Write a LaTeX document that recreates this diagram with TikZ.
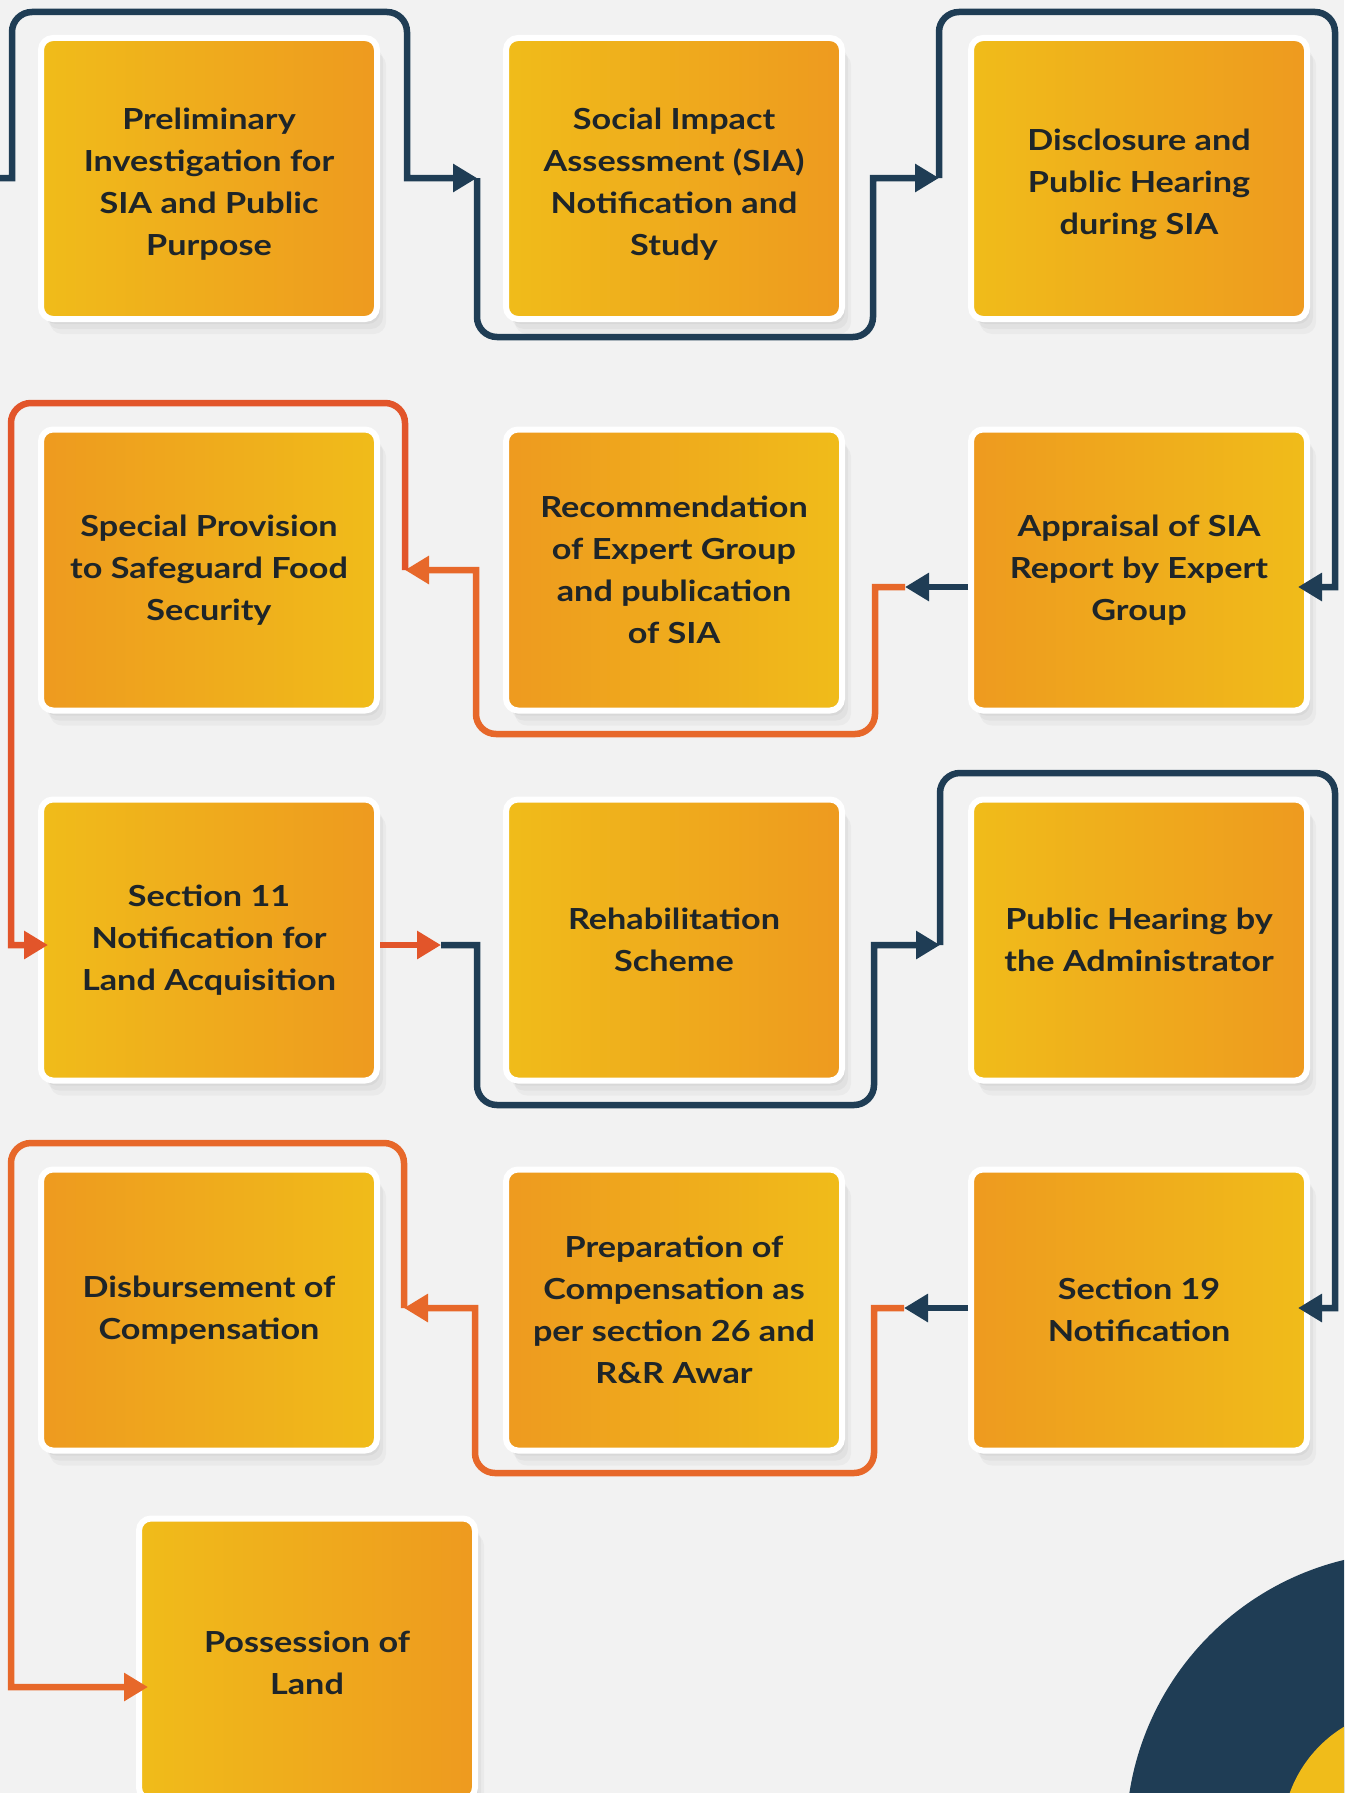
\documentclass[tikz,border=0pt]{standalone}
\usepackage{fontspec}
\setmainfont{Lato}[FakeStretch=1.18]
\usetikzlibrary{arrows.meta}
\definecolor{bg}{HTML}{F2F2F2}
\definecolor{boxY}{HTML}{F0BC1A}
\definecolor{boxO}{HTML}{EE9A1F}
\definecolor{navy}{HTML}{1F3D55}
\definecolor{redo}{HTML}{E2552A}
\definecolor{oro}{HTML}{E7682A}
\definecolor{txt}{HTML}{1E2529}
\newcommand\lowtext[1]{\raisebox{-6pt}[\height][\depth]{\begin{tabular}{@{}c@{}}#1\end{tabular}}}
\tikzset{
  stepbox/.style={draw=white, line width=6pt, rounded corners=12pt,
    minimum width=336pt, minimum height=281pt, inner sep=0pt, align=center,
    font=\bfseries\fontsize{29}{42}\selectfont, text=txt,
    preaction={fill=black, opacity=0.035, transform canvas={shift={(3pt,-5pt)}}},
    preaction={fill=black, opacity=0.035, transform canvas={shift={(6pt,-10pt)}}},
    preaction={fill=black, opacity=0.03, transform canvas={shift={(9pt,-15pt)}}}},
  ltr/.style={left color=boxY, right color=boxO},
  rtl/.style={left color=boxO, right color=boxY},
  navyline/.style={draw=navy, line width=6.5pt},
  orline/.style={draw=#1, line width=6.5pt},
  orline/.default=redo,
  arrowhd/.style={-{Triangle[length=24pt,width=27pt]}},
}
\begin{document}
\begin{tikzpicture}[x=1pt,y=-1pt]
\useasboundingbox (0,0) rectangle (1344,1793);
\clip (0,0) rectangle (1344,1793);
\fill[bg] (0,0) rectangle (1344,1793);
% decoration
\fill[navy] (1411,1837) circle (285);
\fill[boxY] (1411,1837) circle (129);
% boxes
\node[stepbox,ltr] (n1) at (209,178.5) {\lowtext{Preliminary\\Investigation for\\SIA and Public\\Purpose}};
\node[stepbox,ltr] (n2) at (674,178.5) {\lowtext{Social Impact\\Assessment (SIA)\\Notification and\\Study}};
\node[stepbox,ltr] (n3) at (1139,178.5) {\lowtext{Disclosure and\\Public Hearing\\during SIA}};
\node[stepbox,rtl] (n4) at (1139,570) {Appraisal of SIA\\Report by Expert\\Group};
\node[stepbox,rtl] (n5) at (674,570) {Recommendation\\of Expert Group\\and publication\\of SIA};
\node[stepbox,rtl] (n6) at (209,570) {Special Provision\\to Safeguard Food\\Security};
\node[stepbox,ltr] (n7) at (209,940) {Section 11\\Notification for\\Land Acquisition};
\node[stepbox,ltr] (n8) at (674,940) {Rehabilitation\\Scheme};
\node[stepbox,ltr] (n9) at (1139,940) {Public Hearing by\\the Administrator};
\node[stepbox,rtl] (n10) at (1139,1310) {Section 19\\Notification};
\node[stepbox,rtl] (n11) at (674,1310) {Preparation of\\Compensation as\\per section 26 and\\R\&R Awar};
\node[stepbox,rtl] (n12) at (209,1310) {Disbursement of\\Compensation};
\node[stepbox,ltr] (n13) at (307,1659) {\lowtext{Possession of\\Land}};
% connector coordinates
\coordinate (s0) at (0,178);
\coordinate (t1) at (477,178);
\coordinate (t2) at (939,178);
\coordinate (t3) at (1298,587);
\coordinate (t4) at (905,587);
\coordinate (t5) at (405,570);
\coordinate (t6) at (48,945);
\coordinate (t7) at (441,945);
\coordinate (t8) at (940,945);
\coordinate (t9) at (1298,1308);
\coordinate (t10) at (904,1308);
\coordinate (t11) at (404,1308);
\coordinate (t12) at (148,1687);
% connectors (a corner is rounded when the segment arriving at it is drawn under rounded corners)
\draw[navyline,arrowhd] (s0) -- (12,178) [rounded corners=20pt] -- (12,12) -- (407,12) [sharp corners] -- (407,178) -- (t1);
\draw[navyline,arrowhd] (t1) [rounded corners=20pt] -- (477,337) -- (873,337) [sharp corners] -- (873,178) -- (t2);
\draw[navyline,arrowhd] (t2) [rounded corners=20pt] -- (939,12) -- (1335,12) [sharp corners] -- (1335,587) -- (t3);
\draw[orline=oro,arrowhd] (t4) -- (875,587) [rounded corners=20pt] -- (875,734) -- (476,734) [sharp corners] -- (476,570) -- (t5);
\draw[orline,arrowhd] (t5) [rounded corners=20pt] -- (405,403) -- (11,403) [sharp corners] -- (11,945) -- (t6);
\draw[orline,arrowhd] (n7.east |- t7) -- (t7);
\draw[navyline,arrowhd] (t7) -- (477,945) [rounded corners=20pt] -- (477,1105) -- (874,1105) [sharp corners] -- (874,945) -- (t8);
\draw[navyline,arrowhd] (t8) [rounded corners=20pt] -- (940,773) -- (1335,773) [sharp corners] -- (1335,1308) -- (t9);
\draw[orline=oro,arrowhd] (t10) -- (874,1308) [rounded corners=20pt] -- (874,1473) -- (475,1473) [sharp corners] -- (475,1308) -- (t11);
\draw[orline=oro,arrowhd] (t11) [rounded corners=20pt] -- (404,1143) -- (11,1143) [sharp corners] -- (11,1687) -- (t12);
% short navy arrows drawn last so their heads sit on top of the orange lines
\draw[navyline,arrowhd] (n4.west |- t4) -- (t4);
\draw[navyline,arrowhd] (n10.west |- t10) -- (t10);
\end{tikzpicture}
\end{document}
